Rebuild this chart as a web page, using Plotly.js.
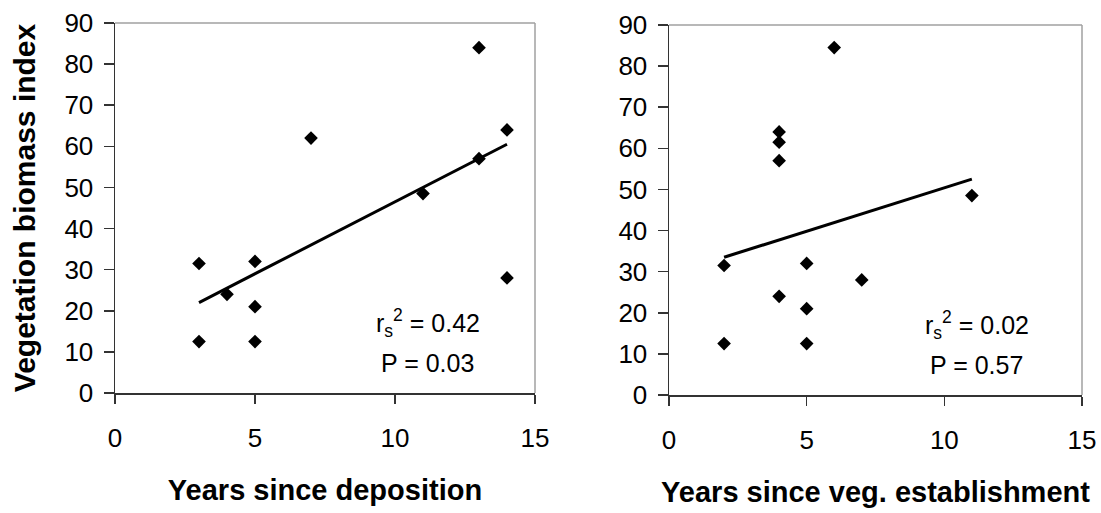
<!DOCTYPE html>
<html>
<head>
<meta charset="utf-8">
<script src="https://cdn.plot.ly/plotly-3.0.1.min.js"></script>
<style>
  html, body { margin: 0; padding: 0; background: #ffffff; }
  #chart { width: 1101px; height: 513px; }
</style>
</head>
<body>
<div id="chart"></div>
<script>
// Left panel: years since deposition
const depYears   = [3, 3, 4, 5, 5, 5, 7, 11, 13, 13, 14, 14];
const depBiomass = [31.5, 12.5, 24, 32, 21, 12.5, 62, 48.5, 84, 57, 64, 28];
const depTrendX  = [3, 14];
const depTrendY  = [22, 60.5];

// Right panel: years since vegetation establishment
const vegYears   = [2, 2, 4, 4, 4, 4, 5, 5, 5, 6, 7, 11];
const vegBiomass = [31.5, 12.5, 64, 61.5, 57, 24, 32, 21, 12.5, 84.5, 28, 48.5];
const vegTrendX  = [2, 11];
const vegTrendY  = [33.5, 52.5];

const xTicks = [0, 5, 10, 15];
const yTicks = [0, 10, 20, 30, 40, 50, 60, 70, 80, 90];

const statsLeft  = {r2: '0.42', p: '0.03'};
const statsRight = {r2: '0.02', p: '0.57'};

const FONT = 'Liberation Sans, Arial, sans-serif';
const markerStyle = {symbol: 'diamond', size: 10.5, color: '#000000', line: {width: 0}};
const trendStyle = {color: '#000000', width: 3};

const traces = [
  {x: depYears, y: depBiomass, type: 'scatter', mode: 'markers', marker: markerStyle, xaxis: 'x', yaxis: 'y', hoverinfo: 'x+y'},
  {x: depTrendX, y: depTrendY, type: 'scatter', mode: 'lines', line: trendStyle, xaxis: 'x', yaxis: 'y', hoverinfo: 'skip'},
  {x: vegYears, y: vegBiomass, type: 'scatter', mode: 'markers', marker: markerStyle, xaxis: 'x2', yaxis: 'y2', hoverinfo: 'x+y'},
  {x: vegTrendX, y: vegTrendY, type: 'scatter', mode: 'lines', line: trendStyle, xaxis: 'x2', yaxis: 'y2', hoverinfo: 'skip'}
];

function xAxis(domain, title) {
  return {
    domain: domain, range: [0, 15], tickvals: xTicks, ticktext: xTicks.map(String),
    showgrid: false, zeroline: false, showline: true, linecolor: '#333333', linewidth: 1.5,
    ticks: 'outside', ticklen: 9, tickcolor: '#333333', tickwidth: 1.5,
    ticklabelstandoff: 12,
    tickfont: {family: FONT, size: 26, color: '#000000'},
    title: {text: title, font: {family: FONT, size: 29, color: '#000000', weight: 'bold'}, standoff: 28},
    automargin: false, fixedrange: true
  };
}
function yAxis(domain, anchor, title) {
  const a = {
    domain: domain, range: [0, 90], tickvals: yTicks, ticktext: yTicks.map(String),
    anchor: anchor,
    showgrid: false, zeroline: false, showline: true, linecolor: '#333333', linewidth: 1.5,
    ticks: 'outside', ticklen: 10, tickcolor: '#333333', tickwidth: 1.5,
    ticklabelstandoff: 5,
    tickfont: {family: FONT, size: 26, color: '#000000'},
    automargin: false, fixedrange: true
  };
  if (title) a.title = {text: title, font: {family: FONT, size: 30, color: '#000000', weight: 'bold'}, standoff: 20};
  return a;
}

const xa = xAxis([115/1101, 535/1101], 'Years since deposition');
xa.anchor = 'y';
const xa2 = xAxis([669/1101, 1082/1101], 'Years since veg. establishment');
xa2.anchor = 'y2';

function frame(xref, yref) {
  return [
    {type: 'line', xref: xref + ' domain', yref: yref + ' domain', x0: 0, x1: 1, y0: 1, y1: 1, line: {color: '#a0a0a0', width: 1.5}},
    {type: 'line', xref: xref + ' domain', yref: yref + ' domain', x0: 1, x1: 1, y0: 0, y1: 1, line: {color: '#a0a0a0', width: 1.5}}
  ];
}

function statAnn(xref, yref, stats) {
  const f = {family: FONT, size: 25, color: '#000000'};
  return [
    {xref: xref + ' domain', yref: yref + ' domain', x: 0.745, y: 0.19, showarrow: false, font: f,
     text: 'r<sub>s</sub><sup>2</sup> = ' + stats.r2, xanchor: 'center', yanchor: 'middle'},
    {xref: xref + ' domain', yref: yref + ' domain', x: 0.745, y: 0.08, showarrow: false, font: f,
     text: 'P = ' + stats.p, xanchor: 'center', yanchor: 'middle'}
  ];
}

const layout = {
  width: 1101, height: 513,
  margin: {l: 0, r: 0, t: 0, b: 0},
  paper_bgcolor: '#ffffff', plot_bgcolor: '#ffffff',
  showlegend: false,
  font: {family: FONT, color: '#000000'},
  xaxis: xa,
  yaxis: yAxis([120/513, 490/513], 'x', 'Vegetation biomass index'),
  xaxis2: xa2,
  yaxis2: yAxis([118/513, 488/513], 'x2', null),
  shapes: frame('x', 'y').concat(frame('x2', 'y2')),
  annotations: statAnn('x', 'y', statsLeft).concat(statAnn('x2', 'y2', statsRight))
};

Plotly.newPlot('chart', traces, layout, {displayModeBar: false, staticPlot: true});
</script>
</body>
</html>
